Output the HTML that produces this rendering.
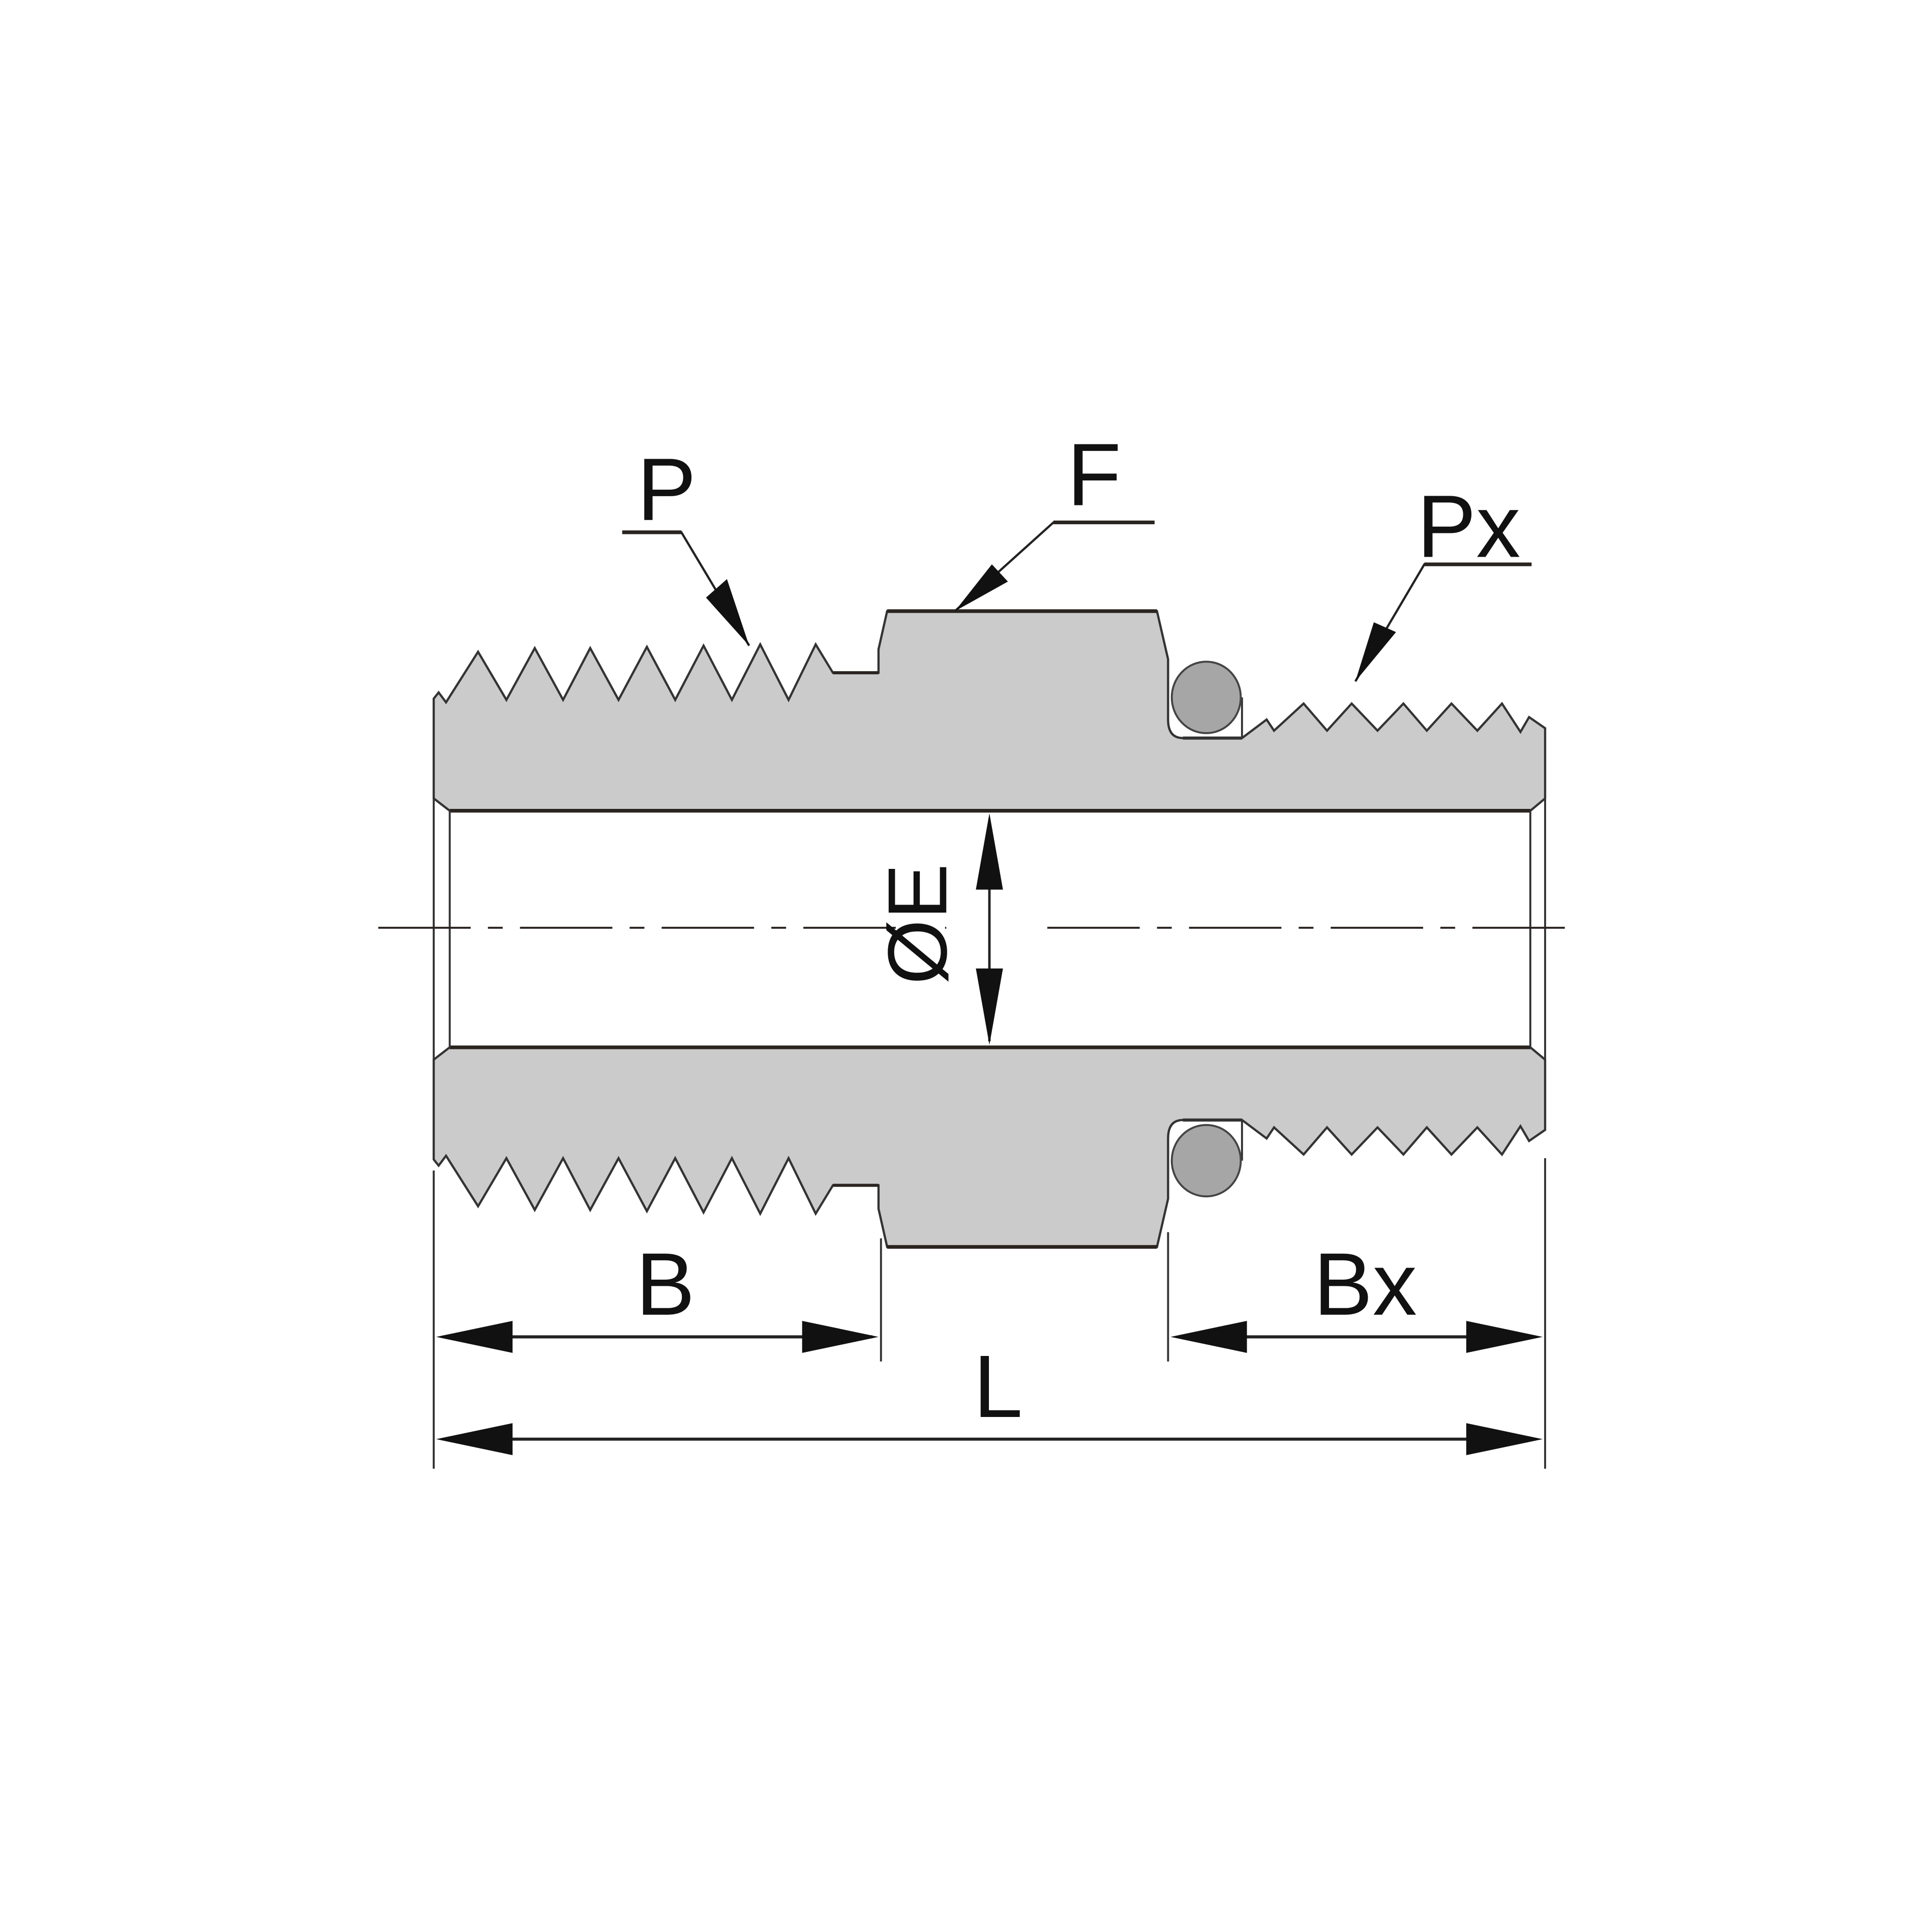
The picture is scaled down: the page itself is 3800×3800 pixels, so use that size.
<!DOCTYPE html>
<html><head><meta charset="utf-8"><style>
html,body{margin:0;padding:0;background:#fff;}
svg{display:block;}
text{font-family:"Liberation Sans",sans-serif;fill:#111;}
</style></head><body>
<svg width="3800" height="3800" viewBox="0 0 1568 1568" xmlns="http://www.w3.org/2000/svg">
<defs>
<g id="half">
<path d="M352,648 L352,567 L356,562 L362,570 L388,529 L411,568 L434,526 L457,568 L479,526 L502,568 L525,525 L548,568 L571,524 L594,568 L617,523 L640,568 L662,523 L676,546 L713,546 L713,527 L720,496 L939,496 L948,535 L948,584 Q948,599 960,599 L1008,599 L1028,584 L1034,593 L1058,571 L1077,593 L1097,571 L1118,593 L1139,571 L1158,593 L1178,571 L1199,593 L1219,571 L1234,594 L1241,582 L1254,591 L1254,648 L1242,658 L365,658 Z" fill="#cbcbcb" stroke="#333" stroke-width="1.8" stroke-linejoin="miter"/>
<line x1="365" y1="658" x2="1242" y2="658" stroke="#2a2420" stroke-width="3"/>
<line x1="720" y1="496" x2="939" y2="496" stroke="#2a2420" stroke-width="3"/>
<line x1="676" y1="546" x2="713" y2="546" stroke="#2a2420" stroke-width="2.5"/>
<line x1="1008" y1="566" x2="1008" y2="599" stroke="#333" stroke-width="1.6"/>
<line x1="960" y1="599" x2="1008" y2="599" stroke="#333" stroke-width="2.5"/>
<ellipse cx="979" cy="566" rx="28" ry="29" fill="#a6a6a6" stroke="#444" stroke-width="1.6"/>
</g>
</defs>
<use href="#half"/>
<use href="#half" transform="translate(0,1508) scale(1,-1)"/>
<g stroke="#333" stroke-width="1.6">
<line x1="352" y1="648" x2="352" y2="860"/>
<line x1="1254" y1="648" x2="1254" y2="860"/>
<line x1="365" y1="658" x2="365" y2="850"/>
<line x1="1242" y1="658" x2="1242" y2="850"/>
</g>
<g stroke="#2a2420" stroke-width="1.6" stroke-dasharray="75,14,12,14">
<line x1="307" y1="753" x2="768" y2="753"/>
<line x1="850" y1="753" x2="1280" y2="753"/>
</g>
<line x1="803" y1="665" x2="803" y2="845" stroke="#222" stroke-width="2"/>
<polygon points="803,660 792,722 814,722" fill="#111"/>
<polygon points="803,848 792,786 814,786" fill="#111"/>
<text x="0" y="0" font-size="68" text-anchor="middle" transform="translate(768,750) rotate(-90)">ØE</text>
<g stroke="#333" stroke-width="1.6">
<line x1="352" y1="950" x2="352" y2="1192"/>
<line x1="1254" y1="940" x2="1254" y2="1192"/>
<line x1="715" y1="1005" x2="715" y2="1105"/>
<line x1="948" y1="1000" x2="948" y2="1105"/>
</g>
<g stroke="#222" stroke-width="2.5">
<line x1="360" y1="1085" x2="708" y2="1085"/>
<line x1="956" y1="1085" x2="1246" y2="1085"/>
<line x1="360" y1="1168" x2="1246" y2="1168"/>
</g>
<g fill="#111">
<polygon points="354,1085 416,1072 416,1098"/>
<polygon points="713,1085 651,1072 651,1098"/>
<polygon points="950,1085 1012,1072 1012,1098"/>
<polygon points="1252,1085 1190,1072 1190,1098"/>
<polygon points="354,1168 416,1155 416,1181"/>
<polygon points="1252,1168 1190,1155 1190,1181"/>
</g>
<text x="540" y="1067" font-size="72" text-anchor="middle">B</text>
<text x="1108" y="1067" font-size="72" text-anchor="middle">Bx</text>
<text x="810" y="1150" font-size="72" text-anchor="middle">L</text>
<g stroke="#222" stroke-width="1.8" fill="none">
<polyline points="505,432 553,432 608,524"/>
<polyline points="937,424 855,424 775,496"/>
<polyline points="1243,458 1156,458 1100,553"/>
</g>
<g stroke="#2a2420" stroke-width="3">
<line x1="505" y1="432" x2="553" y2="432"/>
<line x1="855" y1="424" x2="937" y2="424"/>
<line x1="1156" y1="458" x2="1243" y2="458"/>
</g>
<g fill="#111">
<polygon points="608,524 573,485 590,470"/>
<polygon points="775,496 805,458 818,472"/>
<polygon points="1100,553 1115,505 1133,513"/>
</g>
<text x="541" y="422" font-size="72" text-anchor="middle">P</text>
<text x="888" y="410" font-size="72" text-anchor="middle">F</text>
<text x="1192" y="452" font-size="72" text-anchor="middle">Px</text>
</svg>
</body></html>
